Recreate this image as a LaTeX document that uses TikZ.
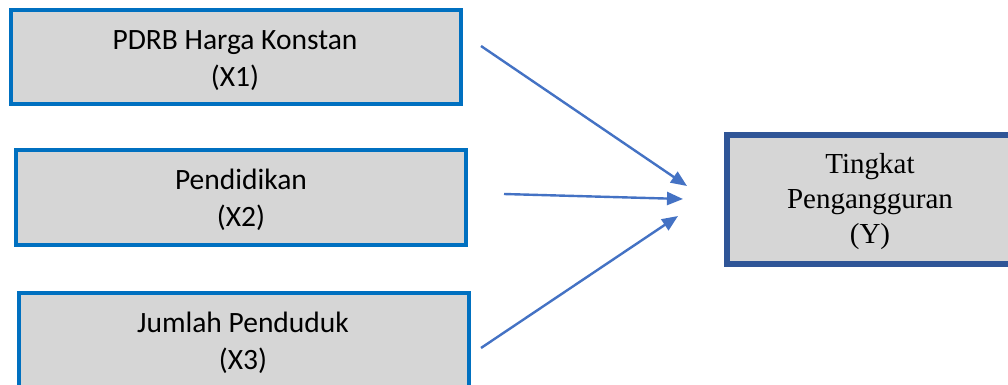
\documentclass[tikz,border=0pt]{standalone}
\usepackage{fontspec}
\setmainfont{Carlito}
\newfontfamily\timesf{Liberation Serif}
\usetikzlibrary{arrows.meta}
\definecolor{boxblue}{HTML}{0070C0}
\definecolor{boxfill}{HTML}{D6D6D6}
\definecolor{ydark}{HTML}{2F5597}
\definecolor{arrblue}{HTML}{4472C4}
\tikzset{
  xbox/.style={draw=boxblue, line width=3.8pt, fill=boxfill, rectangle, inner sep=0pt},
  ybox/.style={draw=ydark, line width=6pt, fill=boxfill, rectangle, inner sep=0pt},
  xtext/.style={align=center, inner sep=0pt, font=\fontsize{29.5}{37}\selectfont},
  ytext/.style={align=center, inner sep=0pt, font=\timesf\fontsize{29}{35}\selectfont},
  conn/.style={draw=arrblue, line width=2.4pt, -{Triangle[length=16pt,width=13pt]}}
}
\begin{document}
\begin{tikzpicture}[x=1pt,y=-1pt]
\useasboundingbox (0,0) rectangle (1008,385);
\clip (0,0) rectangle (1008,385);
\fill[white] (0,0) rectangle (1008,385);
% boxes
\path[xbox] (11,10) rectangle (461,104);
\node[minimum width=450pt, minimum height=94pt, inner sep=0pt] (b1) at (236,57) {};
\path[xbox] (16,150) rectangle (466,245);
\node[minimum width=450pt, minimum height=95pt, inner sep=0pt] (b2) at (241,197.5) {};
\path[xbox] (19,293) rectangle (469,392);
\node[minimum width=450pt, minimum height=99pt, inner sep=0pt] (b3) at (244,342.5) {};
\path[ybox] (727,135) rectangle (1013,264);
\node[minimum width=286pt, minimum height=129pt, inner sep=0pt] (by) at (870,199.5) {};
% texts
\node[xtext] (t1) at (235,60.3) {PDRB Harga Konstan\\(X1)};
\node[xtext] (t2) at (241,199.5) {Pendidikan\\(X2)};
\node[xtext] (t3) at (243,343) {Jumlah Penduduk\\(X3)};
\node[ytext] (ty) at (870,201.3) {Tingkat\\Pengangguran\\(Y)};
% connector ends
\coordinate (s1) at (481,46);
\coordinate (e1) at (687,186);
\coordinate (s2) at (504,194);
\coordinate (e2) at (683,199);
\coordinate (s3) at (481,348);
\coordinate (e3) at (678,216);
\draw[conn] (s1) -- (e1);
\draw[conn] (s2) -- (e2);
\draw[conn] (s3) -- (e3);
\end{tikzpicture}
\end{document}
